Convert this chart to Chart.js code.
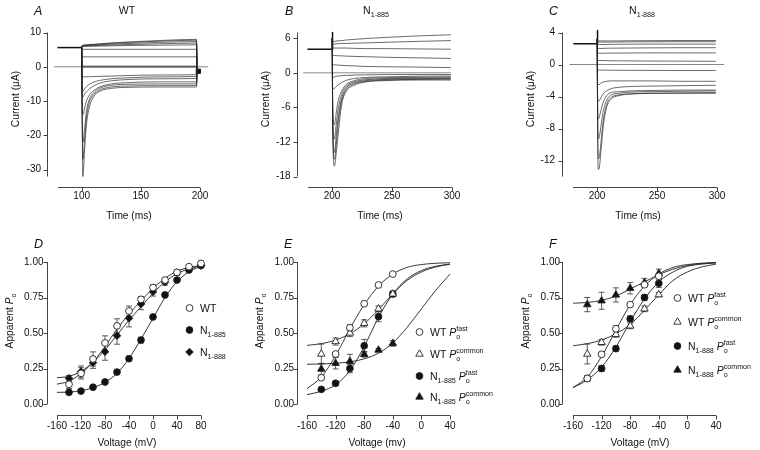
<!DOCTYPE html>
<html><head><meta charset="utf-8">
<script src="https://cdn.jsdelivr.net/npm/chart.js@4.4.1/dist/chart.umd.min.js"></script>
<style>
html,body{margin:0;padding:0;background:#fff}
#wrap{position:relative;width:760px;height:450px;overflow:hidden;background:#fff}
canvas{position:absolute;left:0;top:0;width:760px;height:450px}
</style></head><body><div id="wrap">
<canvas id="cA" width="760" height="450"></canvas>
<canvas id="cB" width="760" height="450"></canvas>
<canvas id="cC" width="760" height="450"></canvas>
<canvas id="cD" width="760" height="450"></canvas>
<canvas id="cE" width="760" height="450"></canvas>
<canvas id="cF" width="760" height="450"></canvas>
</div>
<script>
// ---------------- DATA ----------------
// Panel A (WT): current traces, µA, sampled at tA (ms)
const tA = [100.4, 101, 101.6, 102.5, 104, 106, 110, 115, 125, 140, 165, 197, 197.6];
const holdA = [[79.5, 5.6], [100, 5.6]];
const tracesA = [
  [6.2, 6.25, 6.3, 6.35, 6.4, 6.45, 6.55, 6.7, 6.95, 7.25, 7.65, 8.0, -1.3],
  [6.2, 6.22, 6.25, 6.3, 6.35, 6.4, 6.5, 6.6, 6.85, 7.1, 7.45, 7.75, -1.3],
  [6.1, 6.12, 6.15, 6.18, 6.2, 6.25, 6.3, 6.4, 6.6, 6.8, 7.1, 7.35, -1.3],
  [6.0, 6.0, 6.05, 6.05, 6.1, 6.1, 6.15, 6.25, 6.35, 6.5, 6.7, 6.9, -1.3],
  [5.9, 5.9, 5.9, 5.95, 5.95, 6.0, 6.0, 6.05, 6.1, 6.2, 6.3, 6.4, -1.3],
  [5.1, 5.1, 5.1, 5.1, 5.1, 5.1, 5.1, 5.1, 5.1, 5.1, 5.1, 5.1, -1.3],
  [2.9, 2.9, 2.9, 2.9, 2.9, 2.9, 2.9, 2.9, 2.9, 2.9, 2.9, 2.9, -1.3],
  [0.2, 0.2, 0.2, 0.2, 0.2, 0.2, 0.2, 0.2, 0.2, 0.2, 0.2, 0.2, -1.3],
  [-0.1, -0.1, -0.1, -0.1, -0.1, -0.1, -0.1, -0.1, -0.1, -0.1, -0.1, -0.1, -1.3],
  [-3.0, -3.0, -2.95, -2.95, -2.9, -2.9, -2.85, -2.8, -2.7, -2.55, -2.4, -2.3, -1.3],
  [-6.8, -7.2, -6.9, -6.4, -5.8, -5.2, -4.5, -4.0, -3.5, -3.2, -2.95, -2.8, -1.3],
  [-8.0, -8.8, -8.5, -8.0, -7.3, -6.6, -5.6, -4.8, -4.1, -3.7, -3.5, -3.4, -1.3],
  [-10, -14, -13.5, -12, -10, -8.5, -7.0, -5.9, -5.0, -4.6, -4.4, -4.4, -1.3],
  [-12, -22, -21, -18, -13, -10, -7.6, -6.3, -5.4, -5.1, -5.0, -5.0, -1.3],
  [-13, -27, -25.5, -21, -15, -11, -8.2, -6.8, -5.9, -5.6, -5.5, -5.5, -1.3],
  [-14, -32, -30, -24, -17, -12.5, -8.8, -7.2, -6.3, -6.0, -5.9, -5.9, -1.3]
];
const tailMarkA = [198.6, -1.3];
const zeroA = [76.5, 207];

// Panel B (N1-885)
const tB = [200.5, 201, 202, 203.5, 205, 208, 212, 218, 228, 245, 270, 299];
const holdB = [[179.5, 4.1], [200, 4.1], [200.3, 7.0], [200.6, 5.2]];
const tracesB = [
  [5.4, 5.4, 5.45, 5.5, 5.55, 5.6, 5.7, 5.8, 5.95, 6.15, 6.4, 6.6],
  [5.0, 5.0, 5.0, 5.05, 5.05, 5.1, 5.1, 5.15, 5.2, 5.3, 5.45, 5.6],
  [4.3, 4.3, 4.3, 4.3, 4.3, 4.3, 4.3, 4.25, 4.2, 4.2, 4.15, 4.1],
  [3.0, 3.0, 3.0, 3.0, 2.95, 2.95, 2.9, 2.85, 2.8, 2.7, 2.6, 2.5],
  [1.4, 1.4, 1.4, 1.35, 1.35, 1.3, 1.25, 1.2, 1.1, 1.05, 1.0, 0.9],
  [-0.8, -0.8, -0.7, -0.6, -0.55, -0.5, -0.45, -0.4, -0.35, -0.3, -0.3, -0.3],
  [-2.5, -2.8, -2.7, -2.4, -2.1, -1.7, -1.3, -1.0, -0.8, -0.7, -0.6, -0.55],
  [-4, -8, -9, -7, -5, -3.2, -2.0, -1.4, -1.0, -0.85, -0.8, -0.75],
  [-5, -10, -11.5, -9, -6.5, -3.8, -2.3, -1.6, -1.2, -1.0, -0.95, -0.9],
  [-6, -12, -13.8, -11, -8, -4.5, -2.6, -1.8, -1.35, -1.15, -1.05, -1.0],
  [-6.5, -13, -15, -12.5, -9, -5, -2.9, -2.0, -1.5, -1.25, -1.15, -1.1],
  [-7, -14, -16.2, -14, -11, -5.6, -3.2, -2.2, -1.6, -1.35, -1.25, -1.25]
];
const zeroB = [176, 299];

// Panel C (N1-888)
const tC = [200.5, 201, 202, 203.5, 205, 208, 212, 218, 228, 245, 270, 299];
const holdC = [[180.3, 2.6], [200, 2.6], [200.3, 4.25], [200.6, 3.0]];
const tracesC = [
  [2.95, 2.95, 2.95, 2.95, 2.95, 2.95, 2.95, 2.95, 2.97, 2.98, 3.0, 3.0],
  [2.8, 2.8, 2.8, 2.8, 2.8, 2.8, 2.8, 2.82, 2.83, 2.84, 2.85, 2.85],
  [2.5, 2.5, 2.5, 2.5, 2.5, 2.5, 2.52, 2.53, 2.54, 2.55, 2.55, 2.55],
  [2.0, 2.0, 2.0, 2.0, 2.02, 2.03, 2.04, 2.05, 2.06, 2.08, 2.1, 2.1],
  [1.4, 1.4, 1.4, 1.4, 1.4, 1.42, 1.42, 1.43, 1.44, 1.45, 1.45, 1.45],
  [0.5, 0.5, 0.5, 0.5, 0.5, 0.48, 0.47, 0.46, 0.45, 0.43, 0.42, 0.4],
  [-0.7, -0.7, -0.7, -0.7, -0.7, -0.7, -0.72, -0.72, -0.73, -0.74, -0.75, -0.75],
  [-2.4, -2.5, -2.5, -2.3, -2.2, -2.1, -2.05, -2.05, -2.05, -2.05, -2.1, -2.1],
  [-4.0, -4.6, -4.5, -4.1, -3.7, -3.3, -3.0, -2.85, -2.75, -2.7, -2.65, -2.6],
  [-5, -6.8, -6.5, -5.6, -4.8, -3.9, -3.5, -3.4, -3.3, -3.25, -3.2, -3.2],
  [-6, -9.3, -9.0, -7.5, -6.0, -4.5, -3.8, -3.6, -3.45, -3.4, -3.35, -3.3],
  [-6.5, -11.8, -11.5, -9.5, -7.2, -5.0, -4.1, -3.8, -3.65, -3.6, -3.6, -3.6],
  [-7, -13.1, -12.8, -10.5, -8.0, -5.4, -4.3, -3.9, -3.7, -3.6, -3.55, -3.5]
];
const zeroC = [177, 306];

// Panel D: apparent Po vs voltage (mV)
const vD = [-140, -120, -100, -80, -60, -40, -20, 0, 20, 40, 60, 80];
const wtD = [0.139, 0.216, 0.317, 0.43, 0.55, 0.655, 0.737, 0.82, 0.873, 0.927, 0.967, 0.99];
const wtDerr = [0.03, 0.04, 0.05, 0.05, 0.05, 0.035, 0.02, 0.02, 0.015, 0.01, 0.01, 0.01];
const n885D = [0.082, 0.091, 0.118, 0.155, 0.225, 0.319, 0.45, 0.613, 0.768, 0.873, 0.944, 0.975];
const n885Derr = [0.01, 0.01, 0.01, 0.01, 0.015, 0.015, 0.02, 0.01, 0.01, 0.01, 0.01, 0.01];
const n888D = [0.181, 0.228, 0.291, 0.368, 0.481, 0.603, 0.704, 0.79, 0.857, 0.925, 0.955, 0.975];
const n888Derr = [0.02, 0.04, 0.04, 0.06, 0.06, 0.06, 0.04, 0.03, 0.02, 0.02, 0.01, 0.01];
const vFitD = [-160, -140, -120, -100, -80, -60, -40, -20, 0, 20, 40, 60, 80];
const wtFitD = [0.14, 0.16, 0.215, 0.295, 0.405, 0.528, 0.635, 0.725, 0.815, 0.885, 0.935, 0.962, 0.975];
const n888FitD = [0.185, 0.195, 0.23, 0.294, 0.38, 0.486, 0.59, 0.685, 0.78, 0.86, 0.918, 0.952, 0.972];
const n885FitD = [0.082, 0.084, 0.093, 0.115, 0.153, 0.216, 0.32, 0.458, 0.603, 0.751, 0.861, 0.932, 0.97];

// Panel E
const vE = [-140, -120, -100, -80, -60, -40];
const wtFastE = [0.185, 0.352, 0.537, 0.706, 0.838, 0.915];
const wtFastEerr = [0.01, 0.01, 0.02, 0.01, 0.01, 0.01];
const wtComE = [0.352, 0.44, 0.50, 0.568, 0.67, 0.775];
const wtComEerr = [0.07, 0.025, 0.025, 0.025, 0.02, 0.015];
const nFastE = [0.103, 0.146, 0.25, 0.41, 0.615, 0.775];
const nFastEerr = [0.01, 0.015, 0.03, 0.045, 0.035, 0.02];
const nComE = [0.246, 0.287, 0.30, 0.35, 0.38, 0.427];
const nComEerr = [0.04, 0.04, 0.05, 0.02, 0.01, 0.02];
const vFitE = [-160, -140, -120, -100, -80, -60, -40, -20, 0, 20, 40];
const wtFastFitE = [0.108, 0.19, 0.34, 0.53, 0.70, 0.83, 0.915, 0.962, 0.982, 0.991, 0.995];
const wtComFitE = [0.413, 0.425, 0.45, 0.495, 0.565, 0.665, 0.775, 0.87, 0.93, 0.965, 0.985];
const nFastFitE = [0.066, 0.09, 0.135, 0.235, 0.405, 0.61, 0.775, 0.88, 0.94, 0.97, 0.985];
const nComFitE = [0.28, 0.282, 0.287, 0.297, 0.318, 0.358, 0.43, 0.54, 0.67, 0.80, 0.915];

// Panel F
const vF = [-140, -120, -100, -80, -60, -40];
const wtFastF = [0.18, 0.35, 0.53, 0.70, 0.84, 0.90];
const wtFastFerr = [0.01, 0.01, 0.02, 0.01, 0.01, 0.01];
const wtComF = [0.352, 0.434, 0.49, 0.55, 0.67, 0.77];
const wtComFerr = [0.07, 0.02, 0.02, 0.02, 0.02, 0.015];
const nFastF = [0.18, 0.25, 0.39, 0.60, 0.75, 0.85];
const nFastFerr = [0.02, 0.02, 0.02, 0.02, 0.02, 0.03];
const nComF = [0.70, 0.727, 0.768, 0.815, 0.855, 0.92];
const nComFerr = [0.05, 0.06, 0.05, 0.04, 0.03, 0.03];
const vFitF = [-160, -140, -120, -100, -80, -60, -40, -20, 0, 20, 40];
const wtFastFitF = [0.115, 0.19, 0.335, 0.52, 0.70, 0.83, 0.915, 0.962, 0.982, 0.991, 0.995];
const wtComFitF = [0.41, 0.425, 0.45, 0.495, 0.56, 0.66, 0.77, 0.87, 0.93, 0.965, 0.985];
const nFastFitF = [0.115, 0.17, 0.26, 0.40, 0.58, 0.74, 0.86, 0.93, 0.97, 0.985, 0.995];
const nComFitF = [0.71, 0.715, 0.73, 0.76, 0.81, 0.86, 0.91, 0.95, 0.975, 0.99, 0.995];

// Tick labels
const xTicksA = [100, 150, 200], yTicksA = [10, 0, -10, -20, -30];
const xTicksB = [200, 250, 300], yTicksB = [6, 0, -6, -12, -18];
const xTicksC = [200, 250, 300], yTicksC = [4, 0, -4, -8, -12];
const xTicksD = [-160, -120, -80, -40, 0, 40, 80];
const xTicksEF = [-160, -120, -80, -40, 0, 40];
const yTicksPo = [0, 0.25, 0.5, 0.75, 1.0];

// ---------------- RENDERING ----------------
const FAM = "'Liberation Sans', Arial, Helvetica, sans-serif";
Chart.defaults.font.family = FAM;
Chart.defaults.font.size = 10;
Chart.defaults.color = '#111';

function drawRich(ctx, parts, x, y, size, align) {
  const items = []; let w = 0; let prevStart = 0;
  for (const [t, st] of parts) {
    const small = st === 'b' || st === 'p' || st === 'ps';
    const fs = small ? size * 0.68 : size;
    const font = (st === 'i' ? 'italic ' : '') + fs + 'px ' + FAM;
    ctx.font = font;
    const tw = ctx.measureText(t).width;
    const sx = st === 'ps' ? prevStart : w;
    const dy = st === 'b' ? size * 0.32 : (st === 'p' || st === 'ps') ? -size * 0.42 : 0;
    items.push({ t, font, sx, dy });
    prevStart = sx;
    w = Math.max(w, sx + tw);
  }
  const off = align === 'center' ? -w / 2 : 0;
  ctx.textBaseline = 'alphabetic'; ctx.textAlign = 'left';
  for (const it of items) { ctx.font = it.font; ctx.fillText(it.t, x + off + it.sx, y + it.dy); }
}

function marker(ctx, style, filled, x, y) {
  ctx.save();
  ctx.lineWidth = 0.9; ctx.strokeStyle = '#222'; ctx.fillStyle = filled ? '#111' : '#fff';
  ctx.beginPath();
  if (style === 'circle') ctx.arc(x, y, 3.4, 0, Math.PI * 2);
  else if (style === 'triangle') {
    const r = 4.3;
    for (let k = 0; k < 3; k++) { const a = k * 2 * Math.PI / 3; const px = x + Math.sin(a) * r, py = y - Math.cos(a) * r; k ? ctx.lineTo(px, py) : ctx.moveTo(px, py); }
    ctx.closePath();
  } else if (style === 'rectRot') {
    const r = 3.8; ctx.moveTo(x, y - r); ctx.lineTo(x + r, y); ctx.lineTo(x, y + r); ctx.lineTo(x - r, y); ctx.closePath();
  }
  ctx.fill(); ctx.stroke(); ctx.restore();
}

const decorById = {};
const decorPlugin = {
  id: 'decor',
  beforeDatasetsDraw(chart) {
    const { ctx, scales: { y } } = chart;
    ctx.save(); ctx.strokeStyle = '#333'; ctx.lineWidth = 0.8;
    chart.data.datasets.forEach((ds, i) => {
      if (!ds.errorBars) return;
      const meta = chart.getDatasetMeta(i);
      ds.data.forEach((p, j) => {
        const e = ds.errorBars[j]; const px = meta.data[j].x;
        const y1 = y.getPixelForValue(p.y + e), y2 = y.getPixelForValue(p.y - e);
        ctx.beginPath();
        ctx.moveTo(px, y1); ctx.lineTo(px, y2);
        ctx.moveTo(px - 3, y1); ctx.lineTo(px + 3, y1);
        ctx.moveTo(px - 3, y2); ctx.lineTo(px + 3, y2);
        ctx.stroke();
      });
    });
    ctx.restore();
  },
  afterDraw(chart) {
    const o = decorById[chart.canvas.id]; if (!o) return;
    const { ctx, chartArea: a, scales: { x, y } } = chart;
    ctx.save();
    ctx.strokeStyle = '#444'; ctx.lineWidth = 1;
    const ax = Math.round(a.left - o.yGap) + 0.5;
    const ay = Math.round(a.bottom + o.xGap) + 0.5;
    ctx.beginPath();
    ctx.moveTo(ax, a.top); ctx.lineTo(ax, a.bottom);
    y.ticks.forEach(t => { const py = Math.round(y.getPixelForValue(t.value)) + 0.5; ctx.moveTo(ax - 4, py); ctx.lineTo(ax, py); });
    ctx.moveTo(a.left, ay); ctx.lineTo(a.right, ay);
    x.ticks.forEach(t => { const px = Math.round(x.getPixelForValue(t.value)) + 0.5; ctx.moveTo(px, ay); ctx.lineTo(px, ay + 4); });
    ctx.stroke();
    ctx.fillStyle = '#111';
    ctx.font = 'italic 12.5px ' + FAM; ctx.textAlign = 'left'; ctx.textBaseline = 'alphabetic';
    ctx.fillText(o.letter[0], o.letter[1], o.letter[2]);
    if (o.title) drawRich(ctx, o.title.parts, o.title.x, o.title.y, 10.5, 'center');
    drawRich(ctx, o.xTitle.parts, o.xTitle.x, o.xTitle.y, 10.2, 'center');
    ctx.save(); ctx.translate(o.yTitle.x, o.yTitle.y); ctx.rotate(-Math.PI / 2);
    drawRich(ctx, o.yTitle.parts, 0, 3.7, 10.2, 'center'); ctx.restore();
    if (o.legend) {
      ctx.save();
      if (o.legend.clipRight) { ctx.beginPath(); ctx.rect(0, 0, o.legend.clipRight, 450); ctx.clip(); }
      o.legend.rows.forEach(r => {
        marker(ctx, r.style, r.filled, o.legend.mx, r.y);
        ctx.fillStyle = '#111';
        drawRich(ctx, r.parts, o.legend.tx, r.y + 3.8, 10.5, 'left');
      });
      ctx.restore();
    }
    ctx.restore();
  }
};

const traceStyle = { showLine: true, pointRadius: 0, borderColor: 'rgba(35,35,35,0.85)', borderWidth: 0.8, cubicInterpolationMode: 'monotone', clip: false };
function traceSets(tGrid, traces, start, hold, zero, extra) {
  const sets = [];
  traces.forEach(vals => sets.push(Object.assign({ data: [{ x: start[0], y: start[1] }].concat(tGrid.map((t, k) => ({ x: t, y: vals[k] }))) }, traceStyle)));
  sets.push({ data: hold.map(p => ({ x: p[0], y: p[1] })), showLine: true, pointRadius: 0, borderColor: '#111', borderWidth: 1.5, tension: 0, clip: false });
  sets.push({ data: zero.map(t => ({ x: t, y: 0 })), showLine: true, pointRadius: 0, borderColor: '#888', borderWidth: 1, clip: false });
  if (extra) sets.push(extra);
  return sets;
}
function ptSet(xs, ys, errs, style, filled) {
  return { data: xs.map((v, k) => ({ x: v, y: ys[k] })), errorBars: errs, showLine: false, pointStyle: style,
    pointRadius: style === 'triangle' ? 4.3 : (style === 'rectRot' ? 3.8 : 3.4), pointBorderWidth: 0.9,
    pointBackgroundColor: filled ? '#111' : '#fff', pointBorderColor: '#222', clip: false, order: 0 };
}
function fitSet(xs, ys) {
  return { data: xs.map((v, k) => ({ x: v, y: ys[k] })), showLine: true, pointRadius: 0, borderColor: '#222', borderWidth: 0.9,
    cubicInterpolationMode: 'monotone', clip: false, order: 1 };
}

function panel(id, area, p) {
  decorById[id] = p.decor;
  return new Chart(document.getElementById(id), {
    type: 'scatter',
    data: { datasets: p.datasets },
    options: {
      responsive: false, animation: false, devicePixelRatio: 1, events: [],
      layout: { padding: { left: 0, right: 760 - area.r, top: area.t, bottom: 0 } },
      plugins: { legend: { display: false }, tooltip: { enabled: false } },
      elements: { line: { borderJoinStyle: 'round' } },
      scales: {
        x: { type: 'linear', min: p.xMin, max: p.xMax, grid: { display: false, drawTicks: false }, border: { display: false },
          ticks: { padding: p.xPad, maxRotation: 0, autoSkip: false, font: { size: 10 }, callback: v => String(v) },
          afterBuildTicks: s => { s.ticks = p.xTicks.map(v => ({ value: v })); }, afterFit: s => { s.height = 450 - area.b; } },
        y: { type: 'linear', min: p.yMin, max: p.yMax, grid: { display: false, drawTicks: false }, border: { display: false },
          ticks: { padding: p.yPad, autoSkip: false, font: { size: 10 }, callback: p.yFmt },
          afterBuildTicks: s => { s.ticks = p.yTicks.map(v => ({ value: v })); }, afterFit: s => { s.width = area.l; } }
      }
    },
    plugins: [decorPlugin]
  });
}

const curTitle = [['Current (\u03BCA)', '']];
const timeTitle = [['Time (ms)', '']];
const poTitle = [['Apparent ', ''], ['P', 'i'], ['o', 'b']];
const intStr = v => String(v);
const po2 = v => v.toFixed(2);

panel('cA', { l: 58, r: 200, t: 32.5, b: 176.5 }, {
  xMin: 80, xMax: 200, yMin: -32, yMax: 10, xTicks: xTicksA, yTicks: yTicksA, xPad: 14, yPad: 17, yFmt: intStr,
  datasets: traceSets(tA, tracesA, [100, 5.6], holdA, zeroA,
    { data: [{ x: tailMarkA[0], y: tailMarkA[1] }], showLine: false, pointStyle: 'rect', pointRadius: 3, pointBackgroundColor: '#111', pointBorderColor: '#111', clip: false }),
  decor: { yGap: 11, xGap: 10, letter: ['A', 34, 15], title: { parts: [['WT', '']], x: 127, y: 14 },
    xTitle: { parts: timeTitle, x: 129, y: 218.5 }, yTitle: { parts: curTitle, x: 15, y: 99 } }
});
panel('cB', { l: 308, r: 452, t: 32.5, b: 176.5 }, {
  xMin: 180, xMax: 300, yMin: -18, yMax: 7, xTicks: xTicksB, yTicks: yTicksB, xPad: 14, yPad: 17.5, yFmt: intStr,
  datasets: traceSets(tB, tracesB, [200.2, 6.0], holdB, zeroB),
  decor: { yGap: 11, xGap: 10, letter: ['B', 285, 15], title: { parts: [['N', ''], ['1-885', 'b']], x: 376, y: 14 },
    xTitle: { parts: timeTitle, x: 380, y: 218.5 }, yTitle: { parts: curTitle, x: 265.5, y: 99 } }
});
panel('cC', { l: 573, r: 717, t: 32.5, b: 176.5 }, {
  xMin: 180, xMax: 300, yMin: -14, yMax: 4, xTicks: xTicksC, yTicks: yTicksC, xPad: 14, yPad: 18, yFmt: intStr,
  datasets: traceSets(tC, tracesC, [200.2, 3.2], holdC, zeroC),
  decor: { yGap: 11, xGap: 10, letter: ['C', 549, 15], title: { parts: [['N', ''], ['1-888', 'b']], x: 642, y: 14 },
    xTitle: { parts: timeTitle, x: 638, y: 218.5 }, yTitle: { parts: curTitle, x: 530.5, y: 99 } }
});
panel('cD', { l: 57, r: 201, t: 262, b: 404 }, {
  xMin: -160, xMax: 80, yMin: 0, yMax: 1, xTicks: xTicksD, yTicks: yTicksPo, xPad: 16, yPad: 13.5, yFmt: po2,
  datasets: [
    ptSet(vD, wtD, wtDerr, 'circle', false), ptSet(vD, n885D, n885Derr, 'circle', true), ptSet(vD, n888D, n888Derr, 'rectRot', true),
    fitSet(vFitD, wtFitD), fitSet(vFitD, n888FitD), fitSet(vFitD, n885FitD)
  ],
  decor: { yGap: 10, xGap: 11, letter: ['D', 34, 248],
    xTitle: { parts: [['Voltage (mV)', '']], x: 127, y: 445.5 }, yTitle: { parts: poTitle, x: 9, y: 321 },
    legend: { mx: 189.5, tx: 200, rows: [
      { y: 308, style: 'circle', filled: false, parts: [['WT', '']] },
      { y: 330, style: 'circle', filled: true, parts: [['N', ''], ['1-885', 'b']] },
      { y: 352, style: 'rectRot', filled: true, parts: [['N', ''], ['1-888', 'b']] }] } }
});
panel('cE', { l: 307, r: 450, t: 262, b: 404 }, {
  xMin: -160, xMax: 40, yMin: 0, yMax: 1, xTicks: xTicksEF, yTicks: yTicksPo, xPad: 16, yPad: 13, yFmt: po2,
  datasets: [
    ptSet(vE, wtFastE, wtFastEerr, 'circle', false), ptSet(vE, wtComE, wtComEerr, 'triangle', false),
    ptSet(vE, nFastE, nFastEerr, 'circle', true), ptSet(vE, nComE, nComEerr, 'triangle', true),
    fitSet(vFitE, wtFastFitE), fitSet(vFitE, wtComFitE), fitSet(vFitE, nFastFitE), fitSet(vFitE, nComFitE)
  ],
  decor: { yGap: 10, xGap: 11, letter: ['E', 284, 248],
    xTitle: { parts: [['Voltage (mv)', '']], x: 377, y: 445.5 }, yTitle: { parts: poTitle, x: 259, y: 321 },
    legend: { mx: 419.5, tx: 430, clipRight: 500, rows: [
      { y: 332, style: 'circle', filled: false, parts: [['WT ', ''], ['P', 'i'], ['o', 'b'], ['fast', 'ps']] },
      { y: 354, style: 'triangle', filled: false, parts: [['WT ', ''], ['P', 'i'], ['o', 'b'], ['common', 'ps']] },
      { y: 376, style: 'circle', filled: true, parts: [['N', ''], ['1-885', 'b'], [' ', ''], ['P', 'i'], ['o', 'b'], ['fast', 'ps']] },
      { y: 397, style: 'triangle', filled: true, parts: [['N', ''], ['1-885', 'b'], [' ', ''], ['P', 'i'], ['o', 'b'], ['common', 'ps']] }] } }
});
panel('cF', { l: 573, r: 716, t: 262, b: 404 }, {
  xMin: -160, xMax: 40, yMin: 0, yMax: 1, xTicks: xTicksEF, yTicks: yTicksPo, xPad: 16, yPad: 13, yFmt: po2,
  datasets: [
    ptSet(vF, wtFastF, wtFastFerr, 'circle', false), ptSet(vF, wtComF, wtComFerr, 'triangle', false),
    ptSet(vF, nFastF, nFastFerr, 'circle', true), ptSet(vF, nComF, nComFerr, 'triangle', true),
    fitSet(vFitF, wtFastFitF), fitSet(vFitF, wtComFitF), fitSet(vFitF, nFastFitF), fitSet(vFitF, nComFitF)
  ],
  decor: { yGap: 11, xGap: 11, letter: ['F', 549, 248],
    xTitle: { parts: [['Voltage (mV)', '']], x: 640, y: 445.5 }, yTitle: { parts: poTitle, x: 525, y: 321 },
    legend: { mx: 677.5, tx: 688, rows: [
      { y: 298, style: 'circle', filled: false, parts: [['WT ', ''], ['P', 'i'], ['o', 'b'], ['fast', 'ps']] },
      { y: 322, style: 'triangle', filled: false, parts: [['WT ', ''], ['P', 'i'], ['o', 'b'], ['common', 'ps']] },
      { y: 346, style: 'circle', filled: true, parts: [['N', ''], ['1-888', 'b'], [' ', ''], ['P', 'i'], ['o', 'b'], ['fast', 'ps']] },
      { y: 370, style: 'triangle', filled: true, parts: [['N', ''], ['1-888', 'b'], [' ', ''], ['P', 'i'], ['o', 'b'], ['common', 'ps']] }] } }
});
</script></body></html>
